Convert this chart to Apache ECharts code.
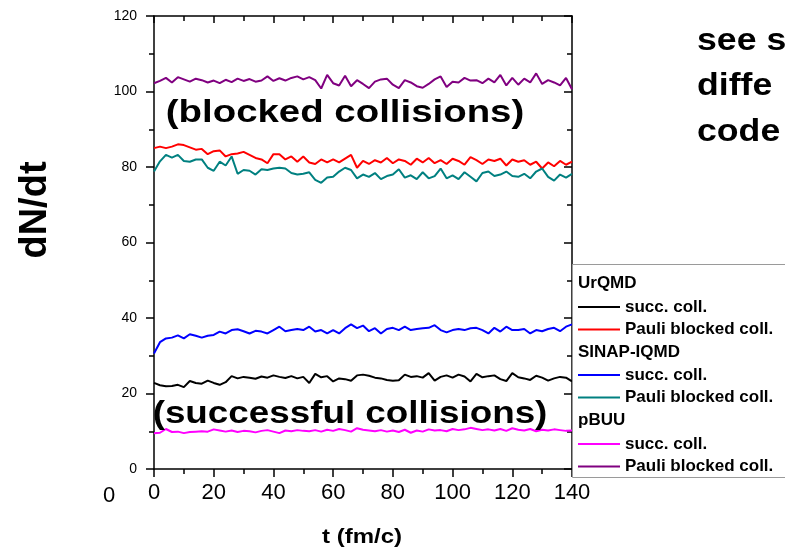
<!DOCTYPE html>
<html>
<head>
<meta charset="utf-8">
<script src="https://cdn.jsdelivr.net/npm/echarts@6/dist/echarts.min.js"></script>
<style>html,body{margin:0;padding:0;background:#fff}#c{width:785px;height:553px}</style>
</head>
<body>
<div id="c"></div>
<script>
// time axis values (fm/c)
const tValues = [0,2,4,6,8,10,12,14,16,18,20,22,24,26,28,30,32,34,36,38,40,42,44,46,48,50,52,54,56,58,60,62,64,66,68,70,72,74,76,78,80,82,84,86,88,90,92,94,96,98,100,102,104,106,108,110,112,114,116,118,120,122,124,126,128,130,132,134,136,138,140];

// UrQMD
const urqmdSucc = [22.8,22.2,21.9,22.0,22.3,21.7,23.3,22.8,22.6,23.4,22.8,22.3,23.0,24.6,24.0,24.4,24.2,23.9,24.5,24.2,24.8,24.4,24.1,24.6,24.0,24.4,22.8,25.2,24.3,24.6,23.2,24.0,23.8,23.4,24.8,25.0,24.7,24.2,24.0,23.6,23.4,23.5,25.0,24.4,24.6,24.2,25.4,23.4,24.4,24.8,24.2,25.0,24.5,23.2,25.2,24.3,24.6,24.8,23.8,23.3,25.4,24.3,24.0,23.6,24.7,24.2,23.4,24.0,24.4,24.2,23.2];
const urqmdPauli = [85.0,85.4,85.0,85.4,86.0,85.8,85.2,84.6,84.8,83.4,84.2,84.4,82.8,83.4,83.6,84.0,83.2,82.4,82.0,81.0,83.4,83.4,82.0,82.8,81.4,82.8,81.2,80.8,82.0,81.2,82.0,81.2,82.2,83.2,79.8,81.6,80.8,81.8,81.2,82.4,81.0,82.0,81.6,80.6,82.2,81.2,82.4,81.0,81.8,80.8,82.2,81.6,80.6,82.6,81.8,80.8,82.0,81.6,82.2,80.4,82.0,81.4,81.8,80.6,81.4,79.6,81.2,80.2,81.6,80.6,81.4];
// SINAP-IQMD
const iqmdSucc = [30.6,33.6,34.6,34.8,35.4,34.6,35.7,35.3,34.8,35.3,35.5,36.4,35.9,36.8,37.0,36.5,35.9,36.6,36.4,35.9,36.8,37.7,36.5,36.8,37.1,36.8,37.7,36.4,36.8,35.9,36.8,35.9,37.3,38.3,37.3,38.0,36.5,37.3,35.9,37.1,37.4,36.8,37.7,36.8,37.1,37.3,37.4,38.1,36.8,36.2,36.8,37.1,36.8,37.3,37.4,36.8,35.9,37.4,36.4,37.7,36.8,36.8,37.1,35.9,36.8,36.5,37.1,37.4,36.5,37.7,38.3];
const iqmdPauli = [78.8,81.5,83.2,82.5,83.2,81.6,81.4,82.0,82.0,79.8,79.0,81.4,80.4,82.8,78.2,79.2,79.0,78.0,79.4,79.2,79.6,79.8,79.6,78.4,78.0,78.2,78.6,76.6,75.8,77.2,77.4,78.8,79.8,79.2,77.0,78.0,77.4,78.4,76.8,77.6,78.0,79.4,77.2,77.8,76.8,78.6,77.0,77.6,79.6,77.0,77.8,76.8,78.6,77.4,76.2,78.4,78.8,77.6,78.0,78.8,77.6,77.4,78.2,77.0,78.8,79.6,77.4,76.4,78.0,77.2,78.2];
// pBUU
const pbuuSucc = [9.5,9.6,10.6,9.8,9.9,9.5,9.8,9.9,10.0,9.9,10.5,10.2,9.9,10.2,9.8,10.1,10.0,9.7,10.1,10.3,9.9,9.5,10.2,10.0,10.3,10.1,10.0,10.3,9.9,10.4,10.1,10.6,10.3,9.9,10.8,10.4,10.2,10.0,10.3,9.9,10.2,9.8,10.4,9.6,10.2,9.9,10.5,10.2,10.3,10.0,10.6,10.3,10.5,10.9,10.6,10.3,10.5,10.2,10.6,10.1,10.8,10.4,10.2,10.6,10.0,10.4,10.2,10.5,10.3,10.1,10.2];
const pbuuPauli = [102.2,102.8,103.6,102.4,103.8,103.2,102.6,103.4,103.0,102.4,102.9,102.2,103.1,102.5,103.4,102.8,103.3,102.6,102.9,104.0,102.8,103.5,102.9,103.6,104.0,103.2,103.8,103.0,100.8,104.4,102.2,101.6,104.2,101.4,103.0,102.0,100.9,102.6,103.2,103.4,101.8,100.9,103.0,102.4,101.4,101.0,102.0,103.2,104.0,101.2,102.6,102.4,103.6,102.9,103.0,102.2,103.4,102.4,104.4,101.6,103.6,101.8,103.4,102.4,104.8,102.0,103.0,102.4,101.6,103.6,100.6];

const xTicks = [0,20,40,60,80,100,120,140];
const yTicks = [0,20,40,60,80,100,120];

function pairs(v){ return tValues.map((t,i)=>[t,v[i]]); }

const seriesDefs = [
  {name:'UrQMD|succ. coll.', data:urqmdSucc, color:'#000000'},
  {name:'UrQMD|Pauli blocked coll.', data:urqmdPauli, color:'#ff0000'},
  {name:'SINAP-IQMD|succ. coll.', data:iqmdSucc, color:'#0000ff'},
  {name:'SINAP-IQMD|Pauli blocked coll.', data:iqmdPauli, color:'#008080'},
  {name:'pBUU|succ. coll.', data:pbuuSucc, color:'#ff00ff'},
  {name:'pBUU|Pauli blocked coll.', data:pbuuPauli, color:'#800080'}
];

const chart = echarts.init(document.getElementById('c'), null, {renderer:'canvas'});
const font = 'Liberation Sans, Arial, sans-serif';

function legendFor(names, top){
  return {
    orient:'vertical', left:578, top:top, padding:0, itemGap:4.5,
    itemWidth:42, itemHeight:2, icon:'rect', z:20,
    selectedMode:false,
    data:names,
    formatter: n => n.split('|')[1],
    textStyle:{fontFamily:font, fontWeight:'bold', fontSize:17, color:'#000', lineHeight:18}
  };
}

const axisBlack = {onZero:false, lineStyle:{color:'#000', width:1.5}};

chart.setOption({
  animation:false,
  backgroundColor:'#fff',
  grid:{left:154, top:16, right:213, bottom:84, containLabel:false},
  xAxis:[{
    type:'value', min:0, max:140, interval:20, position:'bottom',
    axisLine:axisBlack,
    axisTick:{show:true, inside:false, length:8, lineStyle:{color:'#000', width:1.5}},
    minorTick:{show:true, splitNumber:2, length:5, lineStyle:{color:'#000', width:1.5}},
    axisLabel:{color:'#000', fontSize:22, fontFamily:font, margin:13,
      formatter: v => xTicks.indexOf(v) >= 0 ? String(v) : ''},
    splitLine:{show:false}
  },{
    type:'value', min:0, max:140, interval:20, position:'top',
    axisLine:axisBlack,
    axisTick:{show:true, inside:true, length:7, lineStyle:{color:'#000', width:1.5}},
    minorTick:{show:true, splitNumber:2, length:5, lineStyle:{color:'#000', width:1.5}},
    axisLabel:{show:false}, splitLine:{show:false}
  }],
  yAxis:[{
    type:'value', min:0, max:120, interval:20, position:'left',
    axisLine:axisBlack,
    axisTick:{show:true, inside:false, length:8, lineStyle:{color:'#000', width:1.5}},
    minorTick:{show:true, splitNumber:2, length:5, lineStyle:{color:'#000', width:1.5}},
    axisLabel:{color:'#000', fontSize:14, fontFamily:font, margin:17,
      formatter: v => yTicks.indexOf(v) >= 0 ? String(v) : ''},
    splitLine:{show:false}
  },{
    type:'value', min:0, max:120, interval:20, position:'right',
    axisLine:axisBlack,
    axisTick:{show:true, inside:true, length:8, lineStyle:{color:'#000', width:1.5}},
    minorTick:{show:true, splitNumber:2, length:5, lineStyle:{color:'#000', width:1.5}},
    axisLabel:{show:false}, splitLine:{show:false}
  }],
  legend:[
    legendFor(['UrQMD|succ. coll.','UrQMD|Pauli blocked coll.'], 298),
    legendFor(['SINAP-IQMD|succ. coll.','SINAP-IQMD|Pauli blocked coll.'], 366),
    legendFor(['pBUU|succ. coll.','pBUU|Pauli blocked coll.'], 435)
  ],
  series: seriesDefs.map(s => ({
    name:s.name, type:'line', data:pairs(s.data), color:s.color,
    showSymbol:false, symbol:'none', lineStyle:{color:s.color, width:2},
    xAxisIndex:0, yAxisIndex:0, z:2
  })),
  graphic:[
    {type:'rect', z:10, shape:{x:572.5, y:264.5, width:240, height:213},
      style:{fill:'#fff', stroke:'#9a9a9a', lineWidth:1}},
    {type:'text', z:11, x:578, y:283, style:{text:'UrQMD', font:'bold 17px '+font, fill:'#000', textVerticalAlign:'middle', verticalAlign:'middle'}},
    {type:'text', z:11, x:578, y:352, style:{text:'SINAP-IQMD', font:'bold 17px '+font, fill:'#000', textVerticalAlign:'middle', verticalAlign:'middle'}},
    {type:'text', z:11, x:578, y:420, style:{text:'pBUU', font:'bold 17px '+font, fill:'#000', textVerticalAlign:'middle', verticalAlign:'middle'}},
    {type:'text', z:11, x:345, y:113, scaleX:1.2, style:{text:'(blocked collisions)', font:'bold 32px '+font, fill:'#000', textAlign:'center', align:'center', textVerticalAlign:'middle', verticalAlign:'middle'}},
    {type:'text', z:11, x:350, y:414, scaleX:1.15, style:{text:'(successful collisions)', font:'bold 32px '+font, fill:'#000', textAlign:'center', align:'center', textVerticalAlign:'middle', verticalAlign:'middle'}},
    {type:'text', z:11, x:697, y:41, scaleX:1.15, style:{text:'see s', font:'bold 31px '+font, fill:'#000', textVerticalAlign:'middle', verticalAlign:'middle'}},
    {type:'text', z:11, x:697, y:86, scaleX:1.15, style:{text:'diffe', font:'bold 31px '+font, fill:'#000', textVerticalAlign:'middle', verticalAlign:'middle'}},
    {type:'text', z:11, x:697, y:132, scaleX:1.15, style:{text:'code', font:'bold 31px '+font, fill:'#000', textVerticalAlign:'middle', verticalAlign:'middle'}},
    {type:'text', z:11, x:36, y:210, rotation:Math.PI/2, style:{text:'dN/dt', font:'bold 38px '+font, fill:'#000', textAlign:'center', align:'center', textVerticalAlign:'middle', verticalAlign:'middle'}},
    {type:'text', z:11, x:362, y:537, scaleX:1.2, style:{text:'t (fm/c)', font:'bold 20px '+font, fill:'#000', textAlign:'center', align:'center', textVerticalAlign:'middle', verticalAlign:'middle'}},
    {type:'text', z:11, x:109, y:496, style:{text:'0', font:'22px '+font, fill:'#000', textAlign:'center', align:'center', textVerticalAlign:'middle', verticalAlign:'middle'}}
  ]
});
</script>
</body>
</html>
